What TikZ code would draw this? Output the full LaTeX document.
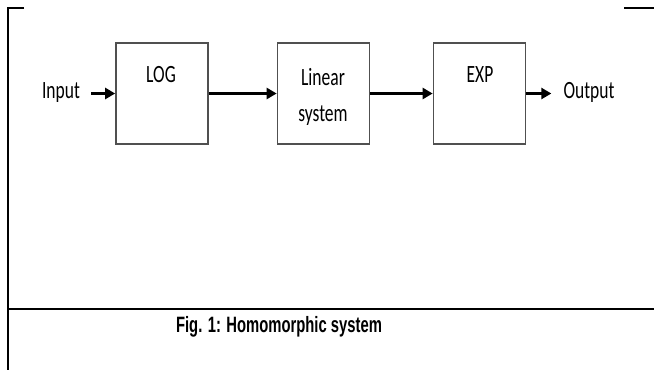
\documentclass[tikz,border=0pt]{standalone}
\usepackage{fontspec}
\usepackage{graphicx}
\setmainfont{Carlito}
\newfontfamily\capfont{Liberation Sans}
\usetikzlibrary{arrows.meta}
\definecolor{boxgray}{HTML}{505050}
\tikzset{
  blk/.style={draw=boxgray, line width=1.7pt, minimum width=92pt, minimum height=101pt, inner sep=0pt},
  lbl/.style={anchor=base, inner sep=0pt, font=\fontsize{17.5}{20}\selectfont},
  arr/.style={line width=2.4pt, -{Triangle[length=10pt,width=11pt]}},
  frame/.style={line width=2.4pt, black}
}
\newcommand{\vs}[1]{\scalebox{1}[1.42]{#1}}
\begin{document}
\begin{tikzpicture}[x=1pt,y=-1pt]
\useasboundingbox (0,0) rectangle (654,370);
% frame
\draw[frame] (24,8) -- (8,8) -- (8,370);
\draw[frame] (624,8) -- (654,8);
\draw[frame] (8,309) -- (654,309);
% boxes
\node[blk] (log) at (162,93.5) {};
\node[blk] (lin) at (323.5,93.5) {};
\node[blk] (exp) at (479.5,93.5) {};
% labels
\node[lbl] (in) at (61,98) {\vs{Input}};
\node[lbl] (out) at (589,98) {\vs{Output}};
\node[lbl] (loglbl) at (161,82) {\vs{LOG}};
\node[lbl] (linlbl1) at (323,85) {\vs{Linear}};
\node[lbl] (linlbl2) at (323,121) {\vs{system}};
\node[lbl] (explbl) at (480,82) {\vs{EXP}};
% connectors
\draw[arr] (log.west -| in.east) ++(11,0) -- (log.west);
\draw[arr] (log.east) -- (lin.west);
\draw[arr] (lin.east) -- (exp.west);
\draw[arr, shorten >=12pt] (exp.east) -- (out.west |- exp.east);
% caption
\node[anchor=base, inner sep=0pt, font=\capfont\bfseries\fontsize{14.8}{17}\selectfont] (cap) at (279,332) {\scalebox{1}[1.5]{Fig. 1: Homomorphic system}};
\end{tikzpicture}
\end{document}
